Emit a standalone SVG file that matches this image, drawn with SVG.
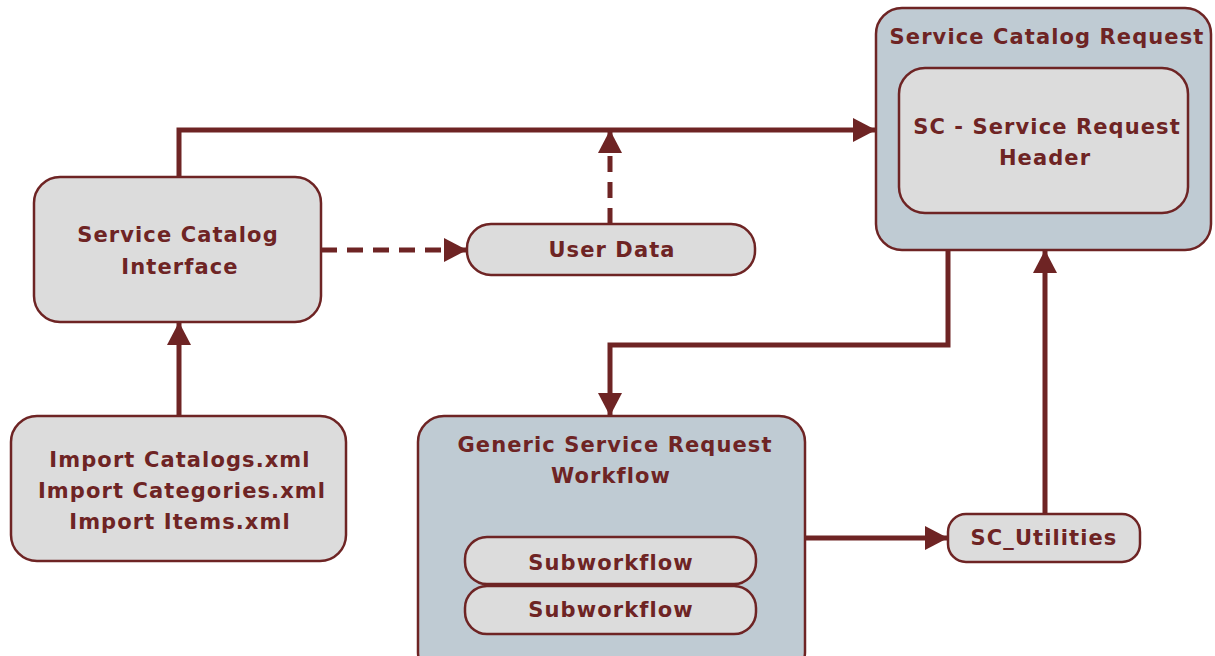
<svg xmlns="http://www.w3.org/2000/svg" width="1215" height="656" viewBox="0 0 1215 656">
  <style>
    .box { fill: #dcdcdc; stroke: #6e2424; stroke-width: 2.5; }
    .group { fill: #bfcbd3; stroke: #6e2424; stroke-width: 2.5; }
    .lbl { font-family: "DejaVu Sans", Verdana, sans-serif; font-weight: bold; font-size: 21px; letter-spacing: 1.1px; fill: #6e2424; text-anchor: middle; }
    .flow { fill: none; stroke: #6e2424; stroke-width: 5; }
    .dash { stroke-dasharray: 16 10; }
  </style>
  <defs>
    <marker id="arrow" markerUnits="userSpaceOnUse" markerWidth="26" markerHeight="26" viewBox="0 0 26 26" refX="23" refY="13" orient="auto">
      <path d="M0,1 L23,13 L0,25 Z" fill="#6e2424"/>
    </marker>
  </defs>

  <g id="service-catalog-interface">
    <rect class="box" x="34" y="177" width="287" height="145" rx="26"/>
    <text class="lbl" x="178" y="242">Service Catalog</text>
    <text class="lbl" x="180" y="274">Interface</text>
  </g>

  <g id="import-files">
    <rect class="box" x="11" y="416" width="335" height="145" rx="26"/>
    <text class="lbl" x="180" y="467">Import Catalogs.xml</text>
    <text class="lbl" x="182" y="498">Import Categories.xml</text>
    <text class="lbl" x="180" y="529">Import Items.xml</text>
  </g>

  <g id="user-data">
    <rect class="box" x="467" y="224" width="288" height="51" rx="24"/>
    <text class="lbl" x="612" y="257">User Data</text>
  </g>

  <g id="service-catalog-request">
    <rect class="group" x="876" y="8" width="335" height="242" rx="26"/>
    <text class="lbl" x="1047" y="44">Service Catalog Request</text>
    <rect class="box" x="899" y="68" width="289" height="145" rx="26"/>
    <text class="lbl" x="1047" y="134">SC - Service Request</text>
    <text class="lbl" x="1045" y="165">Header</text>
  </g>

  <g id="generic-service-request-workflow">
    <rect class="group" x="418" y="416" width="387" height="262" rx="26"/>
    <text class="lbl" x="615" y="452">Generic Service Request</text>
    <text class="lbl" x="611" y="483">Workflow</text>
    <rect class="box" x="465" y="537" width="291" height="47" rx="22"/>
    <text class="lbl" x="611" y="570">Subworkflow</text>
    <rect class="box" x="465" y="586" width="291" height="48" rx="22"/>
    <text class="lbl" x="611" y="617">Subworkflow</text>
  </g>

  <g id="sc-utilities">
    <rect class="box" x="948" y="514" width="192" height="48" rx="18"/>
    <text class="lbl" x="1044" y="545">SC_Utilities</text>
  </g>

  <g id="connectors">
    <path class="flow" d="M179,177 V130 H876" marker-end="url(#arrow)"/>
    <path class="flow" d="M179,416 V322" marker-end="url(#arrow)"/>
    <path class="flow dash" d="M321,250 H467" marker-end="url(#arrow)"/>
    <path class="flow dash" d="M610,224 V130" marker-end="url(#arrow)"/>
    <path class="flow" d="M948,250 V345 H610 V416" marker-end="url(#arrow)"/>
    <path class="flow" d="M805,538 H948" marker-end="url(#arrow)"/>
    <path class="flow" d="M1045,514 V250" marker-end="url(#arrow)"/>
  </g>
</svg>
